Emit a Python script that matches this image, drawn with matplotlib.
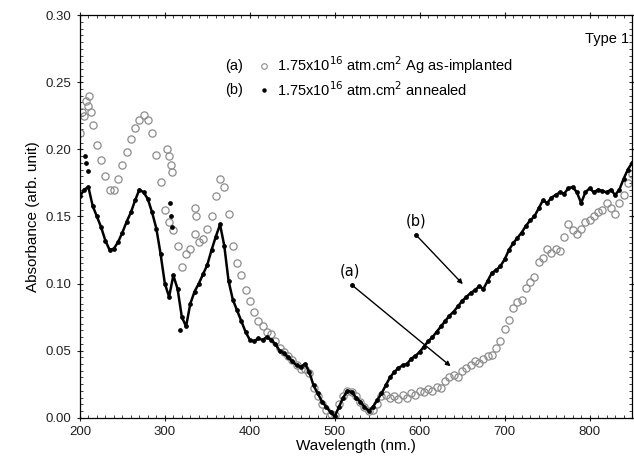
import numpy as np
import matplotlib
matplotlib.use("Agg")
import matplotlib.pyplot as plt
from matplotlib.ticker import MultipleLocator

plt.rcParams['font.family'] = ['Liberation Sans', 'DejaVu Sans']

# wavelength grid of the readings (nm), every 5 nm
wavelength = np.arange(200, 855, 5)

# (a) 1.75x10^16 atm.cm^2 Ag as-implanted
abs_a = [0.212, 0.225, 0.232, 0.218, 0.203, 0.192, 0.180, 0.170, 0.170, 0.178,
         0.188, 0.198, 0.208, 0.216, 0.222, 0.226, 0.222, 0.212, 0.196, 0.176,
         0.155, 0.146, 0.140, 0.128, 0.112, 0.122, 0.126, 0.137, 0.131, 0.133,
         0.141, 0.150, 0.165, 0.178, 0.172, 0.152, 0.128, 0.115, 0.106, 0.095,
         0.087, 0.079, 0.072, 0.068, 0.064, 0.062, 0.057, 0.052, 0.049, 0.046,
         0.043, 0.039, 0.036, 0.036, 0.033, 0.022, 0.016, 0.010, 0.006, 0.003,
         0.002, 0.010, 0.016, 0.020, 0.019, 0.016, 0.012, 0.008, 0.005, 0.006,
         0.010, 0.016, 0.017, 0.015, 0.016, 0.014, 0.017, 0.015, 0.018, 0.017,
         0.020, 0.019, 0.021, 0.020, 0.023, 0.022, 0.027, 0.030, 0.032, 0.030,
         0.035, 0.037, 0.039, 0.042, 0.041, 0.044, 0.046, 0.047, 0.052, 0.057,
         0.066, 0.073, 0.082, 0.086, 0.088, 0.097, 0.101, 0.105, 0.116, 0.119,
         0.126, 0.123, 0.126, 0.124, 0.135, 0.144, 0.140, 0.137, 0.141, 0.146,
         0.147, 0.150, 0.153, 0.155, 0.160, 0.156, 0.152, 0.160, 0.166, 0.175,
         0.182]
# stray points of (a) off the main trace
extra_a_x = [203, 207, 211, 213, 303, 305, 307, 309, 335, 337]
extra_a_y = [0.228, 0.236, 0.240, 0.228, 0.200, 0.195, 0.188, 0.183, 0.156, 0.150]

# (b) 1.75x10^16 atm.cm^2 annealed
abs_b = [0.165, 0.170, 0.172, 0.158, 0.150, 0.142, 0.132, 0.125, 0.126, 0.131,
         0.138, 0.146, 0.153, 0.162, 0.170, 0.168, 0.163, 0.153, 0.141, 0.122,
         0.100, 0.090, 0.106, 0.096, 0.075, 0.068, 0.085, 0.094, 0.100, 0.107,
         0.114, 0.125, 0.135, 0.144, 0.128, 0.102, 0.088, 0.080, 0.072, 0.064,
         0.058, 0.057, 0.059, 0.058, 0.060, 0.058, 0.055, 0.050, 0.048, 0.045,
         0.042, 0.039, 0.038, 0.040, 0.034, 0.024, 0.018, 0.012, 0.008, 0.004,
         0.001, 0.008, 0.015, 0.020, 0.019, 0.015, 0.012, 0.008, 0.005, 0.008,
         0.013, 0.018, 0.024, 0.030, 0.034, 0.037, 0.039, 0.040, 0.044, 0.046,
         0.049, 0.053, 0.057, 0.060, 0.064, 0.068, 0.072, 0.076, 0.079, 0.083,
         0.087, 0.090, 0.093, 0.095, 0.098, 0.096, 0.102, 0.108, 0.110, 0.113,
         0.118, 0.125, 0.130, 0.134, 0.138, 0.143, 0.147, 0.150, 0.156, 0.162,
         0.160, 0.164, 0.166, 0.168, 0.167, 0.171, 0.172, 0.168, 0.160, 0.168,
         0.171, 0.168, 0.170, 0.169, 0.168, 0.170, 0.166, 0.170, 0.178, 0.185,
         0.190]
extra_b_x = [206, 207, 209, 306, 307, 308, 318]
extra_b_y = [0.195, 0.190, 0.184, 0.160, 0.150, 0.142, 0.065]

fig = plt.figure(figsize=(6.34, 4.63), dpi=100)
ax = fig.add_axes([0.126, 0.098, 0.871, 0.869])

xa = np.concatenate([wavelength, extra_a_x])
ya = np.concatenate([abs_a, extra_a_y])
ax.plot(xa, ya, linestyle='none', marker='o', markersize=5.2,
        markerfacecolor='none', markeredgecolor='#8c8c8c', markeredgewidth=0.9)

ax.plot(wavelength, abs_b, color='black', linewidth=1.8)
xb = np.concatenate([wavelength, extra_b_x])
yb = np.concatenate([abs_b, extra_b_y])
ax.plot(xb, yb, linestyle='none', marker='o', markersize=2.4, color='black')

ax.set_xlim(200, 850)
ax.set_ylim(0, 0.30)
ax.xaxis.set_major_locator(MultipleLocator(100))
ax.xaxis.set_minor_locator(MultipleLocator(10))
ax.yaxis.set_major_locator(MultipleLocator(0.05))
ax.yaxis.set_minor_locator(MultipleLocator(0.005))
ax.yaxis.set_major_formatter(plt.FormatStrFormatter('%.2f'))
ax.tick_params(which='both', top=True, right=True, labelsize=9.5, colors='#222222')
ax.tick_params(which='major', direction='inout', length=5, width=0.8)
ax.tick_params(which='minor', direction='in', length=2.5, width=0.6)
for s in ax.spines.values():
    s.set_linewidth(0.9)

ax.set_xlabel('Wavelength (nm.)', fontsize=11, labelpad=1)
ax.set_ylabel('Absorbance (arb. unit)', fontsize=11, labelpad=4)

# legend-like labels
ax.text(0.995, 0.958, 'Type 1', transform=ax.transAxes, ha='right', va='top', fontsize=10.5)
ax.text(0.263, 0.875, '(a)', transform=ax.transAxes, ha='left', va='center', fontsize=10.5)
ax.plot([0.333], [0.875], transform=ax.transAxes, marker='o', markersize=4,
        markerfacecolor='none', markeredgecolor='#8c8c8c', markeredgewidth=0.8)
ax.text(0.357, 0.875, r'1.75x10$^{16}$ atm.cm$^{2}$ Ag as-implanted', transform=ax.transAxes,
        ha='left', va='center', fontsize=10.5)
ax.text(0.263, 0.815, '(b)', transform=ax.transAxes, ha='left', va='center', fontsize=10.5)
ax.plot([0.333], [0.815], transform=ax.transAxes, marker='o', markersize=2.2, color='black')
ax.text(0.357, 0.815, r'1.75x10$^{16}$ atm.cm$^{2}$ annealed', transform=ax.transAxes,
        ha='left', va='center', fontsize=10.5)

# arrows
ax.text(518, 0.104, '(a)', ha='center', va='bottom', fontsize=10.5, family='DejaVu Sans')
ax.plot([520], [0.099], marker='o', markersize=2.5, color='black')
ax.annotate('', xy=(639, 0.037), xytext=(520, 0.099),
            arrowprops=dict(arrowstyle='-|>', color='black', lw=1.0, mutation_scale=7))
ax.text(596, 0.141, '(b)', ha='center', va='bottom', fontsize=10.5, family='DejaVu Sans')
ax.plot([596], [0.136], marker='o', markersize=2.5, color='black')
ax.annotate('', xy=(653, 0.098), xytext=(596, 0.136),
            arrowprops=dict(arrowstyle='-|>', color='black', lw=1.0, mutation_scale=7))

fig.savefig('out.png', dpi=100)
